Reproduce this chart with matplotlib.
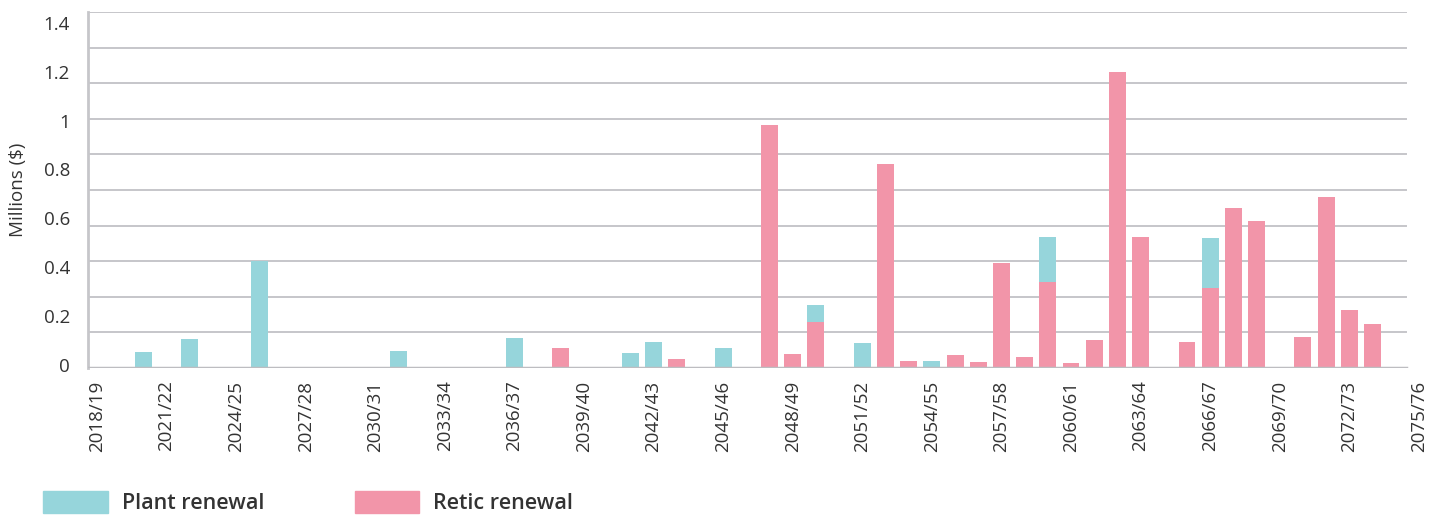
import numpy as np
import matplotlib
matplotlib.use('Agg')
import matplotlib.pyplot as plt
from matplotlib.patches import Patch

plt.rcParams['font.family'] = ['Open Sans', 'DejaVu Sans']

# Financial years 2018/19 .. 2075/76
years = [f'{y}/{(y + 1) % 100:02d}' for y in range(2018, 2076)]

# Values in millions of dollars
plant_renewal = [0, 0, 0.063, 0, 0.114, 0, 0, 0.421, 0, 0,
                 0, 0, 0, 0.067, 0, 0, 0, 0, 0.118, 0,
                 0, 0, 0, 0.059, 0.102, 0, 0, 0.079, 0, 0,
                 0, 0.067, 0, 0.098, 0, 0, 0.028, 0, 0, 0,
                 0, 0.177, 0, 0, 0, 0, 0, 0, 0.196, 0,
                 0, 0, 0, 0, 0, 0, 0, 0]
retic_renewal = [0, 0, 0, 0, 0, 0, 0, 0, 0, 0,
                 0, 0, 0, 0, 0, 0, 0, 0, 0, 0,
                 0.079, 0, 0, 0, 0, 0.035, 0, 0, 0, 0.956,
                 0.055, 0.181, 0, 0, 0.802, 0.028, 0, 0.051, 0.024, 0.413,
                 0.043, 0.338, 0.020, 0.110, 1.164, 0.515, 0, 0.102, 0.315, 0.629,
                 0.578, 0, 0.122, 0.672, 0.228, 0.173, 0, 0]

y_labels = ['0', '0.2', '0.4', '0.6', '0.8', '1', '1.2', '1.4']

plant_color = '#96d5db'
retic_color = '#f295a9'
grid_color = '#c6c6ca'
text_color = '#333333'

fig = plt.figure(figsize=(14.42, 5.15), dpi=100)
ax = fig.add_axes([88 / 1442, 1 - 368 / 515, (1430 - 88) / 1442, (368 - 12) / 515])

x = np.arange(len(years))
ax.bar(x, retic_renewal, width=0.73, color=retic_color, zorder=3)
ax.bar(x, plant_renewal, width=0.73, bottom=retic_renewal, color=plant_color, zorder=3)

# x range so the category ticks line up with the reference labels
ax.set_xlim(-0.39, 57.48)
ax.set_ylim(0, 1.4)

# gridlines stop short of the last tick label
grid_end = (1406 - 88) / (1430 - 88)
for g in np.linspace(0, 1.4, 11)[1:]:
    ax.axhline(g, xmin=0, xmax=grid_end, color=grid_color, lw=1.4, zorder=1)
ax.axhline(0, xmin=0, xmax=grid_end, color='#bdbdc1', lw=2.5, zorder=4)

for side in ['top', 'right', 'bottom']:
    ax.spines[side].set_visible(False)
ax.spines['left'].set_color(grid_color)
ax.spines['left'].set_linewidth(2)

label_vals = np.arange(0, 1.41, 0.2)
ax.set_yticks(0.012 + 0.961 * label_vals)
ax.set_yticklabels(y_labels, fontsize=13.5, color=text_color)
ax.tick_params(axis='y', length=0, pad=13)

ax.set_xticks(x[::3])
ax.set_xticklabels(years[::3], rotation=90, fontsize=13.5, color=text_color)
ax.tick_params(axis='x', length=0, pad=9)

ax.set_ylabel('Millions ($)', fontsize=13.5, color=text_color, labelpad=12)

handles = [Patch(color=plant_color, label='Plant renewal'),
           Patch(color=retic_color, label='Retic renewal')]
fig.legend(handles=handles, loc='center left', bbox_to_anchor=(0.03, 0.024),
           ncol=2, frameon=False, borderpad=0, borderaxespad=0,
           handlelength=3.0, handleheight=1.15, handletextpad=0.65,
           columnspacing=4.2, prop={'size': 15.5, 'weight': 'semibold'},
           labelcolor=text_color)

fig.savefig('out.png', dpi=100)
